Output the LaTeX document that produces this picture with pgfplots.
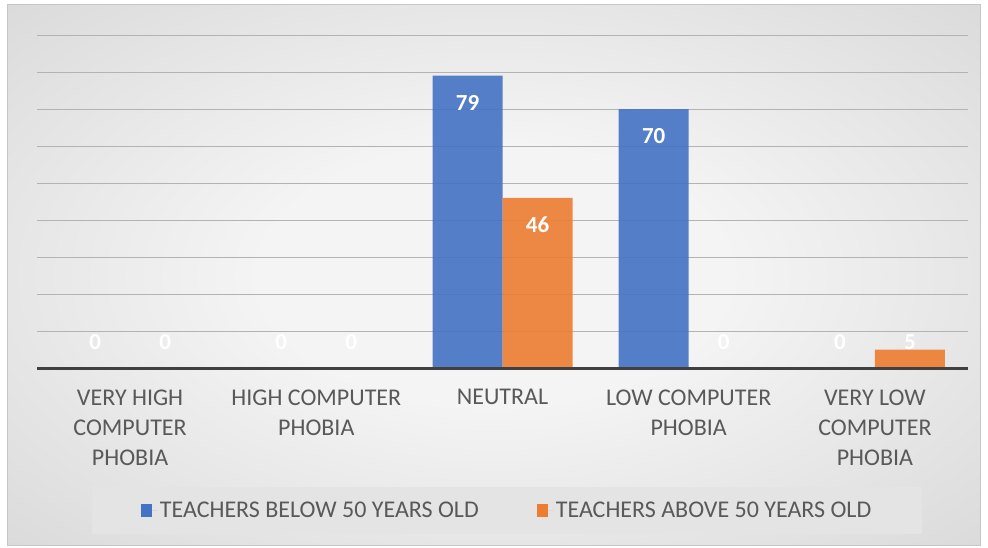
\documentclass[border=0pt]{standalone}
\usepackage{fontspec}
\setmainfont{Carlito}
\usepackage{pgfplots}
\pgfplotsset{compat=1.18}
\definecolor{cblue}{HTML}{4472C4}
\definecolor{corange}{HTML}{ED7D31}
\definecolor{ctext}{HTML}{595959}
\definecolor{cgrid}{HTML}{B3B3B3}
\definecolor{caxis}{HTML}{404040}
\definecolor{bgin}{HTML}{F4F4F4}
\definecolor{bgout}{HTML}{CBCBCB}
\definecolor{legfill}{HTML}{E4E4E4}
\pgfdeclareradialshading{chartbg}{\pgfpoint{0bp}{0bp}}{color(0bp)=(bgin); color(12bp)=(bgin); color(50bp)=(bgout)}
\pgfplotsset{sqlegend/.style={legend image code/.code={\fill[##1, draw=none, fill opacity=1] (0pt,-6pt) rectangle (11pt,7pt); \path (0pt,0pt) -- (17pt,0pt);}}}
\begin{document}
\begin{tikzpicture}
% axis lower-left corner at (0,0); reference frame is 988x547 pt with axis corner at (37,179)
\fill[white] (-37pt,-179pt) rectangle (951pt,368pt);
\shade[shading=chartbg] (-29pt,-177pt) rectangle (943pt,363pt);
\draw[gray!45, line width=1pt] (-29pt,-177pt) rectangle (943pt,363pt);
\begin{axis}[
  at={(93.1pt,0pt)}, anchor=origin,
  scale only axis, width=931pt, height=333pt,
  xmin=-0.5, xmax=4.5, ymin=0, ymax=90,
  clip=false,
  axis line style={draw=none},
  major tick length=0pt,
  ytick={10,20,...,90}, yticklabels={},
  ymajorgrids, major grid style={cgrid, line width=1pt},
  xtick={0,1,2,3,4},
  xticklabels={{VERY HIGH\\COMPUTER\\PHOBIA},{HIGH COMPUTER\\PHOBIA},{NEUTRAL},{LOW COMPUTER\\PHOBIA},{VERY LOW\\COMPUTER\\PHOBIA}},
  xticklabel style={align=center, anchor=north, text=ctext, font=\fontsize{24}{30}\selectfont, yshift=-18pt},
  legend columns=2,
  legend style={at={(0.505,-0.428)}, anchor=center, draw=none, fill=legfill,
    font=\fontsize{24}{28}\selectfont, text=ctext, inner xsep=49pt, inner ysep=12.5pt,
    /tikz/every even column/.append style={column sep=56pt}},
  legend cell align=left,
]
\addplot[ybar, bar width=70pt, bar shift=-35pt, fill=cblue, fill opacity=0.9, draw=none, sqlegend]
  coordinates {(0,0) (1,0) (2,79) (3,70) (4,0)};
\addlegendentry{TEACHERS BELOW 50 YEARS OLD}
\addplot[ybar, bar width=70pt, bar shift=35pt, fill=corange, fill opacity=0.9, draw=none, sqlegend]
  coordinates {(0,0) (1,0) (2,46) (3,0) (4,5)};
\addlegendentry{TEACHERS ABOVE 50 YEARS OLD}
\addplot[only marks, mark=none, forget plot, point meta=explicit symbolic, nodes near coords,
  nodes near coords style={anchor=center, text=white, font=\bfseries\fontsize{23}{24}\selectfont}]
  coordinates {(-0.188,7)[0] (0.812,7)[0] (1.812,71.7)[79] (2.812,62.7)[70] (3.812,7)[0]};
\addplot[only marks, mark=none, forget plot, point meta=explicit symbolic, nodes near coords,
  nodes near coords style={anchor=center, text=white, font=\bfseries\fontsize{23}{24}\selectfont}]
  coordinates {(0.188,7)[0] (1.188,7)[0] (2.188,38.7)[46] (3.188,7)[0] (4.188,7)[5]};
\draw[caxis, line width=3pt] (rel axis cs:0,0) -- (rel axis cs:1,0);
\end{axis}
\pgfresetboundingbox
\path[use as bounding box] (-37pt,-179pt) rectangle (951pt,368pt);
\end{tikzpicture}
\end{document}
